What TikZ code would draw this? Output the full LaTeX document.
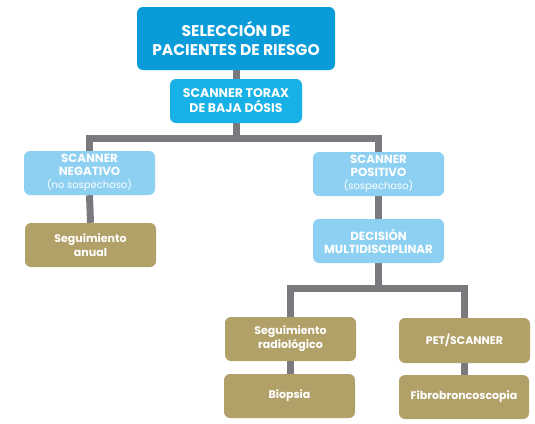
\documentclass[tikz,border=0pt]{standalone}
\usepackage{fontspec}
\setmainfont{Poppins}
\usetikzlibrary{backgrounds}
\definecolor{topblue}{HTML}{0A9BD9}
\definecolor{midblue}{HTML}{17B1E7}
\definecolor{lightblue}{HTML}{8DD0F2}
\definecolor{gold}{HTML}{B1A068}
\definecolor{linegray}{HTML}{7A797E}
\tikzset{
  box/.style={rectangle, rounded corners=6pt, draw=none, text=white, align=center, inner sep=0pt},
  topbox/.style={box, fill=topblue, minimum width=198pt, minimum height=63pt, font=\bfseries\fontsize{15.5}{18.5}\selectfont},
  scanbox/.style={box, fill=midblue, minimum width=132pt, minimum height=44pt, font=\bfseries\fontsize{12.5}{15}\selectfont},
  lbbox/.style={box, fill=lightblue, minimum width=131pt, minimum height=44pt, font=\bfseries\fontsize{11.8}{13}\selectfont},
  goldbox/.style={box, fill=gold, minimum width=131pt, minimum height=44pt, font=\bfseries\fontsize{11}{14}\selectfont},
  conn/.style={draw=linegray, line width=7pt, line join=miter}
}
\newcommand{\subtxt}[1]{{\mdseries\fontsize{10}{12}\selectfont#1}}
\begin{document}
\begin{tikzpicture}[x=1pt,y=-1pt]
\useasboundingbox (0,0) rectangle (535,423);
\node[topbox] (top) at (236,38.5) {SELECCIÓN DE\\PACIENTES DE RIESGO};
\node[scanbox] (scan) at (236,101) {SCANNER TORAX\\DE BAJA DÓSIS};
\node[lbbox] (neg) at (89.5,173) {SCANNER\\NEGATIVO\\\subtxt{(no sospechoso)}};
\node[goldbox] (segan) at (90.5,245) {Seguimiento\\anual};
\node[lbbox] (pos) at (378.5,174) {SCANNER\\POSITIVO\\\subtxt{(sospechoso)}};
\node[lbbox] (dec) at (378.5,241) {DECISIÓN\\MULTIDISCIPLINAR};
\node[goldbox] (segrad) at (290.5,339) {Seguimiento\\radiológico};
\node[goldbox] (bio) at (289.5,396) {Biopsia};
\node[goldbox, minimum height=45pt] (pet) at (464.5,340.5) {PET/SCANNER};
\node[goldbox, minimum width=130pt] (fib) at (464,397) {Fibrobroncoscopia};
\coordinate (b1) at (236,138);
\coordinate (b2) at (378.5,288);
\begin{scope}[on background layer]
\draw[conn] (top.south) -- (scan.north);
\draw[conn] (scan.south) -- (b1);
\draw[conn] (neg.north) |- (b1) -| (pos.north);
\draw[conn] (neg.south) -- (segan.north);
\draw[conn] (pos.south) -- (dec.north);
\draw[conn] (dec.south) -- (b2);
\draw[conn] (segrad.north) |- (b2) -| (pet.north);
\draw[conn] (segrad.south) -- (segrad.south |- bio.north);
\draw[conn] (pet.south) -- (pet.south |- fib.north);
\end{scope}
\end{tikzpicture}
\end{document}
